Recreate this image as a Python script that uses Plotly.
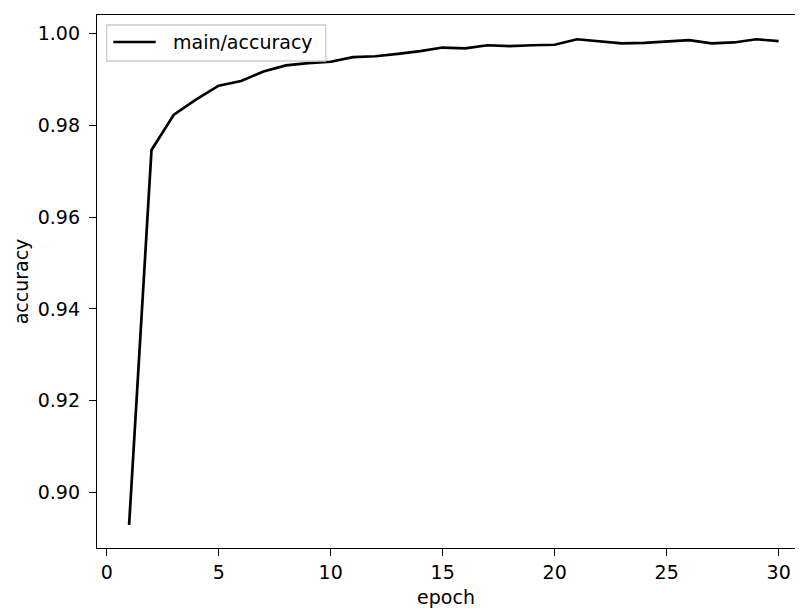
import plotly.graph_objects as go

epochs = list(range(1, 31))
accuracy = [0.8930, 0.9746, 0.9823, 0.9856, 0.9886, 0.9896, 0.9917, 0.9930, 0.9935, 0.9938,
            0.9948, 0.9950, 0.9955, 0.9961, 0.9969, 0.9967, 0.9974, 0.9972, 0.9974, 0.9975,
            0.9987, 0.9982, 0.9978, 0.9979, 0.9982, 0.9985, 0.9978, 0.9980, 0.9987, 0.9983]
series_name = "main/accuracy"
x_ticks = [0, 5, 10, 15, 20, 25, 30]
y_ticks = [0.90, 0.92, 0.94, 0.96, 0.98, 1.00]
y_tick_labels = ["0.90", "0.92", "0.94", "0.96", "0.98", "1.00"]

FONT = "DejaVu Sans"
FS = 19
fig = go.Figure()
fig.add_trace(go.Scatter(x=epochs, y=accuracy, mode="lines", name=series_name,
                         line=dict(color="black", width=2.7), showlegend=False))

# legend drawn like matplotlib's (frame, handle line, label)
fig.add_shape(type="rect", xref="paper", yref="paper", x0=0.0139, x1=0.3277, y0=0.9137, y1=0.9812,
              line=dict(color="#cccccc", width=1.3), fillcolor="rgba(255,255,255,0.8)", layer="above")
fig.add_shape(type="line", xref="paper", yref="paper", x0=0.0234, x1=0.0841, y0=0.9493, y1=0.9493,
              line=dict(color="black", width=2.7), layer="above")
fig.add_annotation(text=series_name, xref="paper", yref="paper", x=0.1055, y=0.9493,
                   xanchor="left", yanchor="middle", showarrow=False,
                   font=dict(family=FONT, size=FS, color="black"))

# the page body adds an 8px offset
fig.update_layout(
    width=787, height=600,
    margin=dict(l=89, r=0, t=7, b=60),
    paper_bgcolor="white", plot_bgcolor="white",
    font=dict(family=FONT, size=FS, color="black"),
    showlegend=False,
)
fig.update_xaxes(range=[-0.433, 30.73], tickvals=x_ticks, ticks="outside", ticklen=7, tickwidth=1.4,
                 tickcolor="black", showline=True, linecolor="black", linewidth=1.4, mirror=True,
                 showgrid=False, zeroline=False, tickfont=dict(family=FONT, size=FS, color="black"),
                 title=dict(text="epoch", font=dict(family=FONT, size=FS, color="black"), standoff=8))
fig.update_yaxes(range=[0.88796, 1.00398], tickvals=y_ticks, ticktext=y_tick_labels, ticks="outside",
                 ticklen=7, tickwidth=1.4, tickcolor="black", showline=True, linecolor="black",
                 linewidth=1.4, mirror=False, showgrid=False, zeroline=False, ticklabelstandoff=5,
                 tickfont=dict(family=FONT, size=FS, color="black"),
                 title=dict(text="accuracy", font=dict(family=FONT, size=FS, color="black"), standoff=4))

fig.write_html("out.html")
